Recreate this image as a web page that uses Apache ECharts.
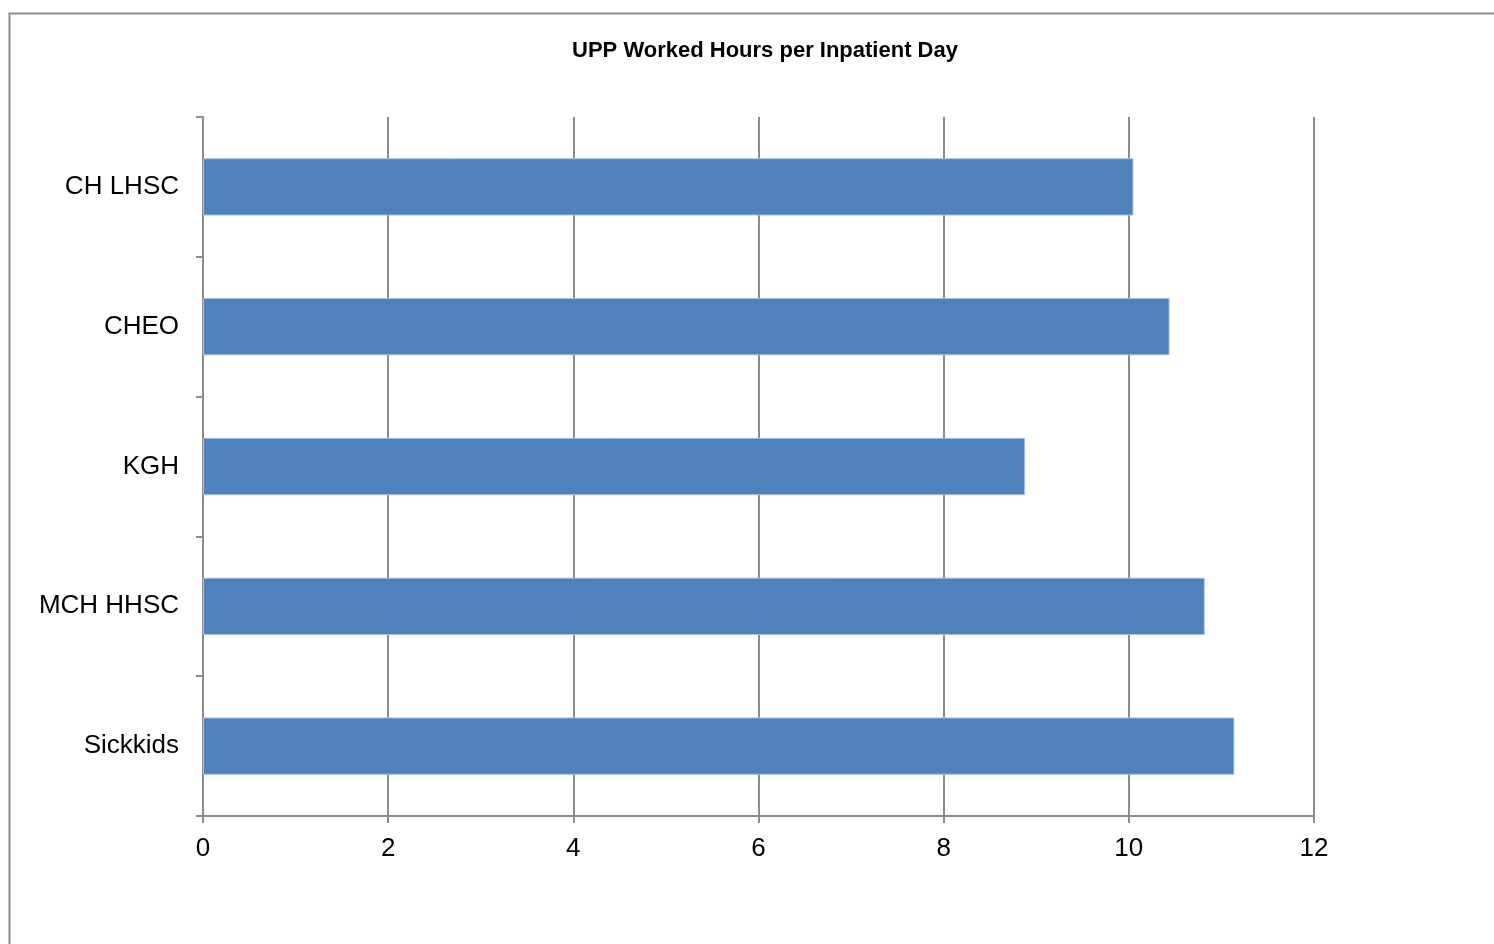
<!DOCTYPE html>
<html>
<head>
<meta charset="utf-8">
<script src="https://cdn.jsdelivr.net/npm/echarts@6/dist/echarts.min.js"></script>
<style>
html,body{margin:0;padding:0;background:#fff;}
#chart{width:1494px;height:944px;}
</style>
</head>
<body>
<div id="chart"></div>
<script>
const titleText = 'UPP Worked Hours per Inpatient Day';
const categories = ['CH LHSC', 'CHEO', 'KGH', 'MCH HHSC', 'Sickkids'];
const values = [10.05, 10.44, 8.88, 10.82, 11.14];
const xTicks = [0, 2, 4, 6, 8, 10, 12];

const FONT = '"Liberation Sans Narrow", "Arial Narrow", "Liberation Sans", Arial, sans-serif';
const chart = echarts.init(document.getElementById('chart'));
chart.setOption({
  animation: false,
  backgroundColor: '#fff',
  title: {
    text: titleText,
    left: 760, top: 35, textAlign: 'center',
    textStyle: { fontFamily: FONT, fontWeight: 'bold', fontSize: 22, color: '#000' }
  },
  graphic: [{
    type: 'rect', shape: { x: 9.5, y: 13.5, width: 1600, height: 1000 },
    style: { fill: 'none', stroke: '#8c8c8c', lineWidth: 2 }, silent: true
  }],
  grid: { left: 203, right: 180, top: 117, bottom: 128, containLabel: false },
  xAxis: {
    type: 'value', min: xTicks[0], max: xTicks[xTicks.length - 1], interval: 2,
    axisLine: { show: true, lineStyle: { color: '#8c8c8c', width: 2 } },
    axisTick: { show: true, length: 7, lineStyle: { color: '#8c8c8c', width: 2 } },
    splitLine: { show: true, lineStyle: { color: '#8c8c8c', width: 2 } },
    axisLabel: { fontFamily: FONT, fontSize: 26, color: '#000', margin: 20 }
  },
  yAxis: {
    type: 'category', data: categories, inverse: true,
    axisLine: { show: true, lineStyle: { color: '#8c8c8c', width: 2 } },
    axisTick: { show: true, length: 7, lineStyle: { color: '#8c8c8c', width: 2 } },
    axisLabel: { fontFamily: FONT, fontSize: 26, color: '#000', margin: 24 }
  },
  series: [{
    type: 'bar', data: values, barCategoryGap: '59%',
    itemStyle: { color: '#4F81BD', borderColor: '#a9c0e0', borderWidth: 1 }
  }]
});
</script>
</body>
</html>
